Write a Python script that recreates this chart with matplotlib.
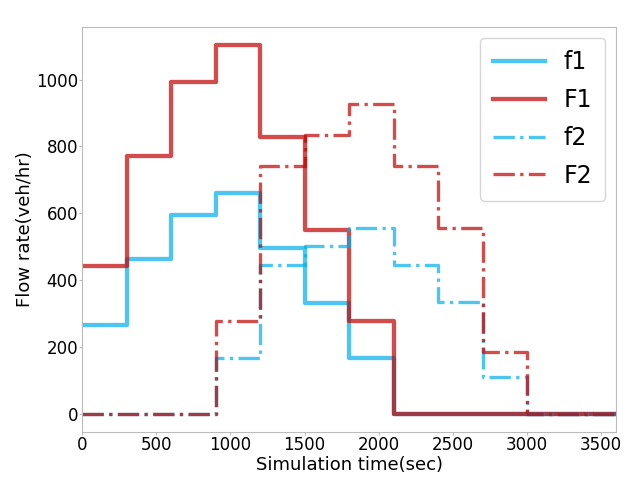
import matplotlib
matplotlib.use("Agg")
import matplotlib.pyplot as plt
import numpy as np

time = [0, 300, 600, 900, 1200, 1500, 1800, 2100, 2400, 2700, 3000, 3300, 3600]
f1 = [265, 463, 596, 661, 496, 331, 165, 0, 0, 0, 0, 0, 0]
F1 = [441, 772, 993, 1103, 827, 551, 276, 0, 0, 0, 0, 0, 0]
f2 = [0, 0, 0, 166, 445, 501, 557, 445, 333, 111, 0, 0, 0]
F2 = [0, 0, 0, 276, 742, 835, 928, 742, 556, 185, 0, 0, 0]

blue = "#00aeea"
red = "#c00000"

fig = plt.figure(figsize=(6.37, 4.8), dpi=100)
ax = fig.add_axes([0.129, 0.10, 0.838, 0.844])

ax.plot(time, f1, drawstyle="steps-post", color=blue, alpha=0.7, lw=3.1, label="f1")
ax.plot(time, F1, drawstyle="steps-post", color=red, alpha=0.7, lw=3.1, label="F1")
ax.plot(time, f2, drawstyle="steps-post", color=blue, alpha=0.7, lw=2.4, ls="-.", label="f2")
ax.plot(time, F2, drawstyle="steps-post", color=red, alpha=0.7, lw=2.4, ls="-.", label="F2")

ax.set_xlim(0, 3600)
ax.set_xticks([0, 500, 1000, 1500, 2000, 2500, 3000, 3500])
ax.set_yticks([0, 200, 400, 600, 800, 1000])
ax.tick_params(length=2, width=0.8, color="#bbbbbb", labelsize=12, pad=1)
for s in ax.spines.values():
    s.set_color("#bbbbbb")
ax.set_xlabel("Simulation time(sec)", fontsize=13, labelpad=1.5)
ax.set_ylabel("Flow rate(veh/hr)", fontsize=13, labelpad=1)
ax.legend(loc="upper right", fontsize=17, handlelength=2.2,
          labelspacing=0.58, borderpad=0.55, borderaxespad=0.45)

fig.savefig("out.png", dpi=100)
